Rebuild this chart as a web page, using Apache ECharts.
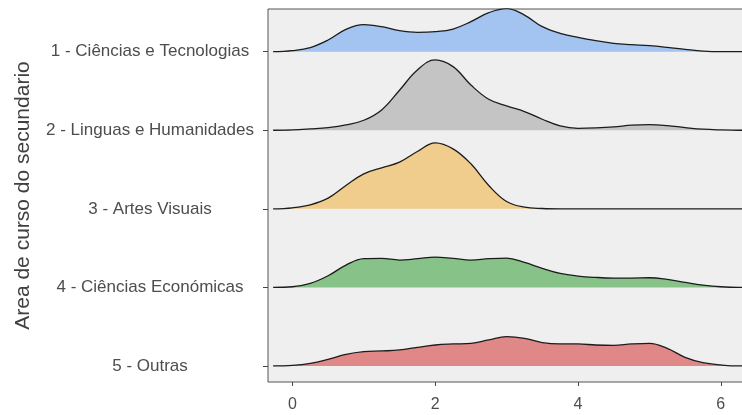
<!DOCTYPE html>
<html>
<head>
<meta charset="utf-8">
<script src="https://cdn.jsdelivr.net/npm/echarts@6/dist/echarts.min.js"></script>
<style>
  html, body { margin: 0; padding: 0; background: #ffffff; }
  #chart { width: 742px; height: 415px; }
</style>
</head>
<body>
<div id="chart"></div>
<script>
// Secondary-school course areas, top to bottom
const categories = [
  '1 - Ciências e Tecnologias',
  '2 - Linguas e Humanidades',
  '3 - Artes Visuais',
  '4 - Ciências Económicas',
  '5 - Outras'
];

// Evaluation points of the density estimates
const xs = [-0.27, 0, 0.25, 0.5, 0.75, 1, 1.25, 1.5, 1.75, 2, 2.25, 2.5, 2.75, 3,
  3.25, 3.5, 3.75, 4, 4.25, 4.5, 4.75, 5, 5.25, 5.5, 5.75, 6, 6.25, 6.4];

// Ridge heights (scaled density) for each area
const densCT = [0, 0.013, 0.051, 0.148, 0.284, 0.343, 0.318, 0.267, 0.246, 0.254, 0.288, 0.382, 0.496, 0.547,
  0.466, 0.318, 0.233, 0.182, 0.140, 0.106, 0.089, 0.076, 0.055, 0.030, 0.008, 0, 0, 0];
const densLH = [0, 0.004, 0.017, 0.034, 0.068, 0.127, 0.259, 0.509, 0.767, 0.895, 0.810, 0.576, 0.394, 0.309,
  0.238, 0.140, 0.055, 0.025, 0.030, 0.042, 0.064, 0.072, 0.059, 0.034, 0.013, 0.004, 0, 0];
const densAV = [0, 0.013, 0.051, 0.136, 0.297, 0.445, 0.522, 0.594, 0.729, 0.840, 0.763, 0.573, 0.297, 0.093,
  0.021, 0.004, 0, 0, 0, 0, 0, 0, 0, 0, 0, 0, 0, 0];
const densCE = [0, 0.008, 0.051, 0.148, 0.284, 0.365, 0.369, 0.348, 0.365, 0.386, 0.369, 0.348, 0.365, 0.373,
  0.318, 0.242, 0.178, 0.144, 0.127, 0.119, 0.119, 0.123, 0.102, 0.064, 0.030, 0.008, 0, 0];
const densOU = [0, 0.008, 0.034, 0.085, 0.148, 0.182, 0.191, 0.204, 0.237, 0.267, 0.280, 0.288, 0.331, 0.373,
  0.352, 0.297, 0.280, 0.280, 0.267, 0.263, 0.280, 0.288, 0.225, 0.110, 0.042, 0.013, 0, 0];

const densities = [densCT, densLH, densAV, densCE, densOU];
const fills = ['#A3C3F0', '#C4C4C4', '#F0CD8D', '#87C388', '#E08787'];

const xTicks = [0, 2, 4, 6];
const yTicks = [1, 2, 3, 4, 5];

// Shared vertical extent (in ridge-row units); ridge k sits on row value k
const yMin = 0.796;
const yMax = 5.543;

// Visible category axis plus one hidden axis per ridge whose zero is that ridge's baseline
const yAxes = [{
  type: 'value',
  min: yMin, max: yMax,
  name: 'Area de curso do secundario',
  nameLocation: 'middle',
  nameGap: 234,
  nameRotate: 90,
  nameTextStyle: { color: '#404040', fontSize: 21, fontFamily: 'Liberation Sans' },
  axisLine: { show: false, onZero: false },
  splitLine: { show: false },
  axisTick: { show: true, length: 5, customValues: yTicks, lineStyle: { color: '#444444' } },
  axisLabel: {
    customValues: yTicks,
    margin: 118,
    align: 'center',
    color: '#4d4d4d', fontSize: 17, fontFamily: 'Liberation Sans',
    formatter: function (v) { return categories[categories.length - Math.round(v)]; }
  }
}];

const series = [];
categories.forEach(function (name, i) {
  const base = categories.length - i;
  yAxes.push({
    type: 'value',
    min: yMin - base, max: yMax - base,
    show: false,
    axisLine: { onZero: false },
    splitLine: { show: false }
  });
  series.push({
    type: 'line',
    name: name,
    yAxisIndex: i + 1,
    silent: true,
    symbol: 'none',
    smooth: 0.4,
    lineStyle: { color: '#1c1c1c', width: 1.3 },
    areaStyle: { color: fills[i], opacity: 1, origin: 'auto' },
    data: xs.map(function (x, k) { return [x, densities[i][k]]; }),
    z: 2 + i
  });
});

const chart = echarts.init(document.getElementById('chart'), null, { renderer: 'canvas' });
chart.setOption({
  animation: false,
  backgroundColor: '#ffffff',
  grid: {
    left: 268, top: 9, width: 475, height: 373,
    outerBoundsMode: 'none',
    containLabel: false,
    show: true, backgroundColor: '#EFEFEF', borderColor: '#555555', borderWidth: 1
  },
  xAxis: {
    type: 'value',
    min: -0.342, max: 6.311,
    axisLine: { show: false, onZero: false },
    splitLine: { show: false },
    axisTick: { show: true, length: 4, customValues: xTicks, lineStyle: { color: '#444444' } },
    axisLabel: {
      customValues: xTicks, margin: 15,
      color: '#4d4d4d', fontSize: 16, fontFamily: 'Liberation Sans'
    }
  },
  yAxis: yAxes,
  series: series
});
</script>
</body>
</html>
